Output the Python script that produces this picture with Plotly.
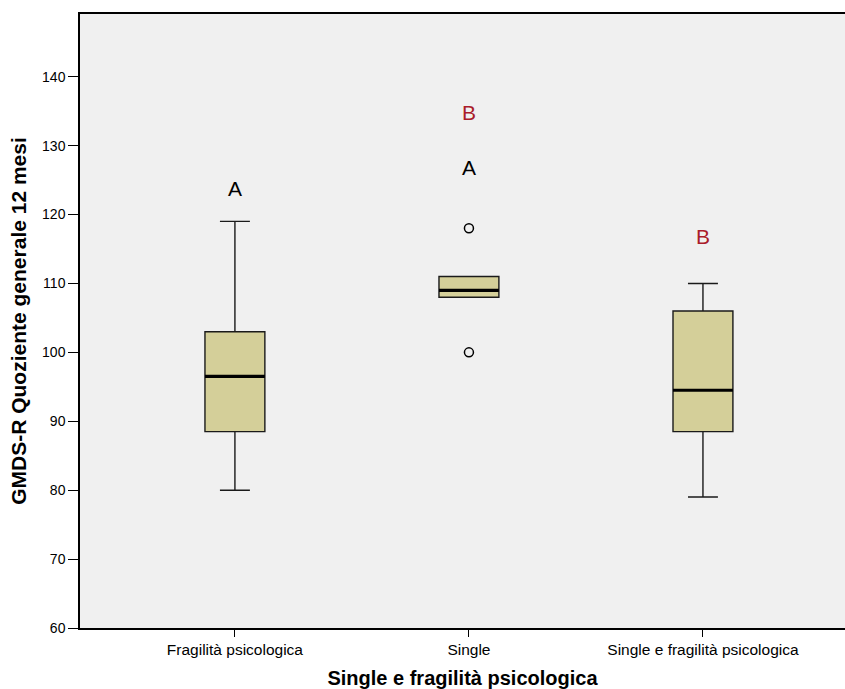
import plotly.graph_objects as go

categories = ["Fragilità psicologica", "Single", "Single e fragilità psicologica"]
lower = [80, 108, 79]
q1 = [88.5, 108, 88.5]
median = [96.5, 109, 94.5]
q3 = [103, 111, 106]
upper = [119, 111, 110]
outlier_x = [1, 1]
outlier_y = [118, 100]
letters_black = ["A", "A", ""]
letters_black_y = [123.5, 126.5, None]
letters_red = ["", "B", "B"]
letters_red_y = [None, 134.5, 116.5]

xpos = [0, 1, 2]
box_w = 0.256
fill = "#d4cf99"

fig = go.Figure()
for i, c in enumerate(categories):
    fig.add_trace(go.Box(
        x=[xpos[i]], q1=[q1[i]], median=[median[i]], q3=[q3[i]],
        lowerfence=[lower[i]], upperfence=[upper[i]],
        width=box_w, whiskerwidth=0.5, fillcolor=fill,
        line=dict(color="#1a1a1a", width=1.4), boxpoints=False,
        showlegend=False, name=c, hoverinfo="skip"))
    fig.add_trace(go.Scatter(
        x=[xpos[i] - box_w / 2, xpos[i] + box_w / 2], y=[median[i], median[i]],
        mode="lines", line=dict(color="black", width=3.2), showlegend=False,
        hoverinfo="skip"))

fig.add_trace(go.Scatter(
    x=outlier_x, y=outlier_y, mode="markers",
    marker=dict(symbol="circle-open", size=9, color="black", line=dict(width=1.5)),
    showlegend=False))

for i in range(3):
    if letters_black[i]:
        fig.add_annotation(x=xpos[i], y=letters_black_y[i], text=letters_black[i],
                           showarrow=False, yshift=2, font=dict(size=21, color="black"))
    if letters_red[i]:
        fig.add_annotation(x=xpos[i], y=letters_red_y[i], text=letters_red[i],
                           showarrow=False, yshift=2, font=dict(size=21, color="#aa1c2a"))

fig.update_layout(
    width=845, height=689,
    margin=dict(l=80, r=0, t=14, b=61),
    paper_bgcolor="white", plot_bgcolor="#f0f0f0",
    font=dict(family="Liberation Sans", color="black"),
    xaxis=dict(range=[-0.662, 2.607], tickvals=xpos, ticktext=categories,
               showgrid=False, zeroline=False, showline=True, linecolor="black",
               linewidth=1.5, mirror=True, ticks="outside", ticklen=7, tickcolor="black",
               tickfont=dict(size=15.5),
               title=dict(text="<b>Single e fragilità psicologica</b>", font=dict(size=20), standoff=15)),
    yaxis=dict(range=[60, 149.1], tickvals=[60, 70, 80, 90, 100, 110, 120, 130, 140],
               showgrid=False, zeroline=False, showline=True, linecolor="black",
               linewidth=1.5, ticks="outside", ticklen=10, tickcolor="black",
               tickfont=dict(size=14),
               title=dict(text="<b>GMDS-R Quoziente generale 12 mesi</b>", font=dict(size=21), standoff=10)),
)

fig.write_html("out.html", config={"displayModeBar": False},
               post_script="document.body.style.margin='0';document.body.style.overflow='hidden';")
